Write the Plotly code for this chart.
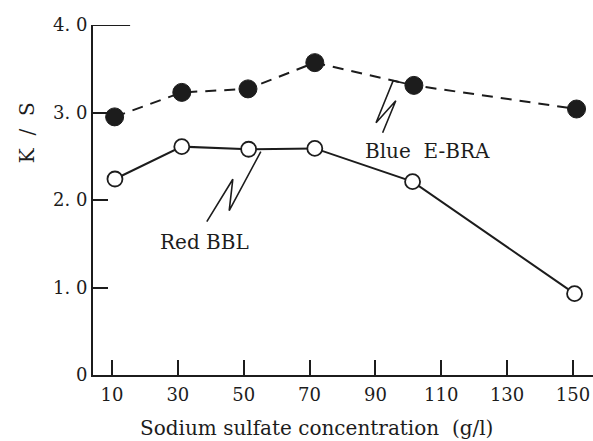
import plotly.graph_objects as go

# ---- data ----
conc_blue = [10.8, 31.2, 51.3, 71.6, 101.7, 151.1]
ks_blue = [2.95, 3.23, 3.27, 3.57, 3.31, 3.04]
conc_red = [10.9, 31.2, 51.5, 71.6, 101.3, 150.5]
ks_red = [2.24, 2.61, 2.58, 2.59, 2.21, 0.93]

x_tickvals = [10, 30, 50, 70, 90, 110, 130, 150]
y_tickvals = [0, 1, 2, 3, 4]
y_ticktext = ["0", "1. 0", "2. 0", "3. 0", "4. 0"]

label_blue = "Blue  E-BRA"
label_red = "Red BBL"
x_title = "Sodium sulfate concentration  (g/l)"
y_title = "K  /  S"

SERIF = "DejaVu Serif"
INK = "#1c1c1c"

fig = go.Figure()

fig.add_trace(go.Scatter(
    x=conc_blue, y=ks_blue, mode="lines+markers", name=label_blue,
    line=dict(color=INK, width=2, dash="11px,8px"),
    marker=dict(size=18, color=INK, line=dict(color=INK, width=1)),
    cliponaxis=False, showlegend=False,
))
fig.add_trace(go.Scatter(
    x=conc_red, y=ks_red, mode="lines+markers", name=label_red,
    line=dict(color=INK, width=2),
    marker=dict(size=15, color="white", line=dict(color=INK, width=1.8)),
    cliponaxis=False, showlegend=False,
))

# leader (zig-zag) lines for the labels
blue_leader = [(conc_blue[4], ks_blue[4]), (95.4, 3.363), (90.2, 2.883), (96.2, 3.135), (92.2, 2.769)]
red_leader = [(55.2, 2.552), (45.6, 1.878), (46.7, 2.237), (38.8, 1.752)]

def path_of(pts):
    return "M " + " L ".join(f"{x},{y}" for x, y in pts)

shapes = [
    dict(type="path", path=path_of(blue_leader), xref="x", yref="y",
         line=dict(color=INK, width=1.6), layer="below"),
    dict(type="path", path=path_of(red_leader), xref="x", yref="y",
         line=dict(color=INK, width=1.6), layer="below"),
    dict(type="line", x0=4.23, x1=15.5, y0=4, y1=4, xref="x", yref="y",
         line=dict(color=INK, width=2)),
]

annotations = [
    dict(x=105.7, y=2.56, xref="x", yref="y", text=label_blue, showarrow=False,
         xanchor="center", yanchor="middle",
         font=dict(family=SERIF, size=20, color=INK)),
    dict(x=38.2, y=1.52, xref="x", yref="y", text=label_red, showarrow=False,
         xanchor="center", yanchor="middle",
         font=dict(family=SERIF, size=20, color=INK)),
    dict(x=-0.132, y=0.691, xref="paper", yref="paper", text=y_title, showarrow=False,
         xanchor="center", yanchor="middle",
         textangle=-90, font=dict(family=SERIF, size=20, color=INK)),
    dict(x=0.446, y=-0.151, xref="paper", yref="paper", text=x_title, showarrow=False,
         xanchor="center", yanchor="middle",
         font=dict(family=SERIF, size=20, color=INK)),
]

fig.update_layout(
    width=593, height=441,
    margin=dict(l=93, r=0, t=25, b=66),
    paper_bgcolor="white", plot_bgcolor="white",
    shapes=shapes, annotations=annotations,
    xaxis=dict(
        range=[4.23, 156.1], tickvals=x_tickvals,
        showline=True, linecolor=INK, linewidth=2,
        ticks="inside", ticklen=15, tickwidth=2, tickcolor=INK,
        showgrid=False, zeroline=False,
        tickfont=dict(family=SERIF, size=18, color=INK),
        ticklabelstandoff=2, ticklabeloverflow="allow",
    ),
    yaxis=dict(
        range=[0, 4.0], tickvals=y_tickvals, ticktext=y_ticktext,
        showline=True, linecolor=INK, linewidth=2,
        ticks="inside", ticklen=15, tickwidth=2, tickcolor=INK,
        showgrid=False, zeroline=False,
        tickfont=dict(family=SERIF, size=18, color=INK),
        ticklabelstandoff=0,
    ),
)

# remove the browser's default 8px page margin so the figure sits at the window's corner
fig.write_html(
    "out.html",
    config={"displayModeBar": False},
    post_script="document.body.style.margin='0';document.body.style.overflow='hidden';",
)
